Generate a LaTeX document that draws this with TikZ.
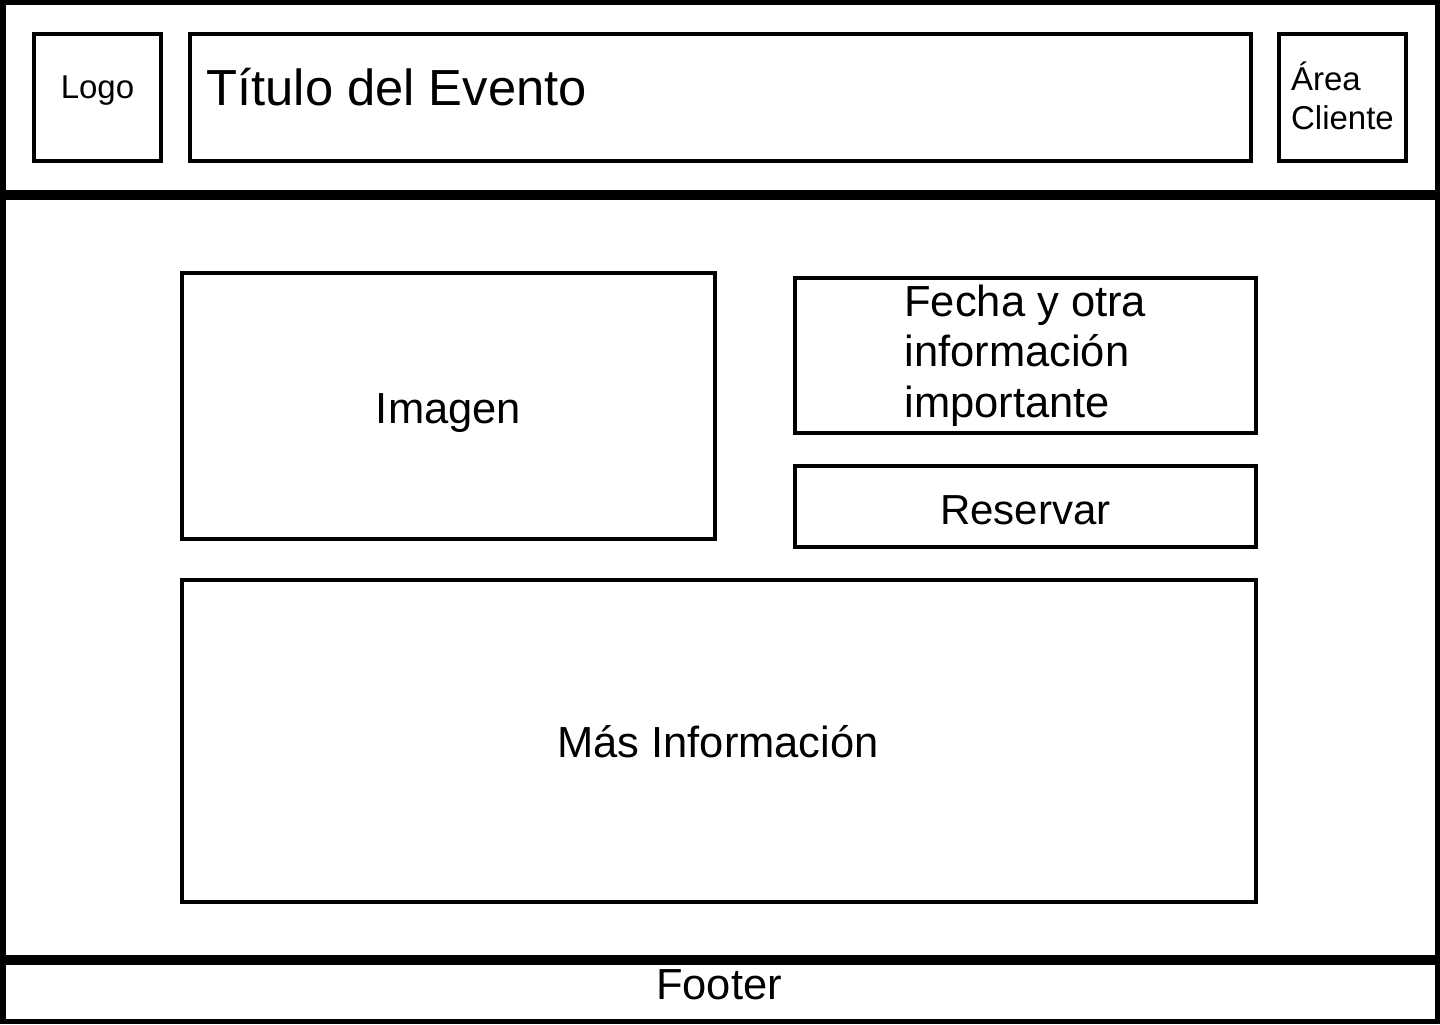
\documentclass[tikz,border=0pt]{standalone}
\usepackage{fontspec}
\setmainfont{Liberation Sans}
\begin{document}
\begin{tikzpicture}[x=0.5pt,y=-0.5pt,
  frame/.style={draw=black,line width=2.75pt,fill=white},
  box/.style={draw=black,line width=2pt,fill=none},
  medtext/.style={inner sep=0pt,font=\fontsize{21.75pt}{25.25pt}\selectfont},
  smalltext/.style={inner sep=0pt,font=\fontsize{16.5pt}{19.3pt}\selectfont},
  titletext/.style={inner sep=0pt,font=\fontsize{25.35pt}{30pt}\selectfont}]
\useasboundingbox (0,0) rectangle (1440,1024);
\fill[white] (0,0) rectangle (1440,1024);
% outer frames
\draw[frame] (2.75,2.5) rectangle (1437.25,192.5);
\draw[frame] (2.75,197.5) rectangle (1437.25,957.5);
\draw[frame] (2.75,962.5) rectangle (1437.25,1021.25);
% header boxes
\draw[box] (34,34) rectangle (161,161);
\draw[box] (190,34) rectangle (1251,161);
\draw[box] (1279.3,34) rectangle (1406.3,161);
% main boxes
\draw[box] (182,273) rectangle (714.7,538.7);
\draw[box] (795.3,278) rectangle (1255.5,433);
\draw[box] (795.3,466) rectangle (1255.5,546.5);
\draw[box] (182,580) rectangle (1256,902);
% texts
\node[smalltext,anchor=base] (logo) at (97.5,98.5) {Logo};
\node[titletext,anchor=base west] (titulo) at (206,105) {Título del Evento};
\node[smalltext,anchor=base west,align=left] (area) at (1290.7,129.5) {Área\\Cliente};
\node[medtext,anchor=base] (imagen) at (448.5,423) {Imagen};
\node[medtext,anchor=base west,align=left] (fecha) at (904,417) {Fecha y otra\\información\\importante};
\node[medtext,anchor=base,font=\fontsize{21pt}{25pt}\selectfont] (reservar) at (1025.5,524) {Reservar};
\node[medtext,anchor=base] (mas) at (718,757) {Más Información};
\node[medtext,anchor=base] (footer) at (719,999) {Footer};
\end{tikzpicture}
\end{document}
